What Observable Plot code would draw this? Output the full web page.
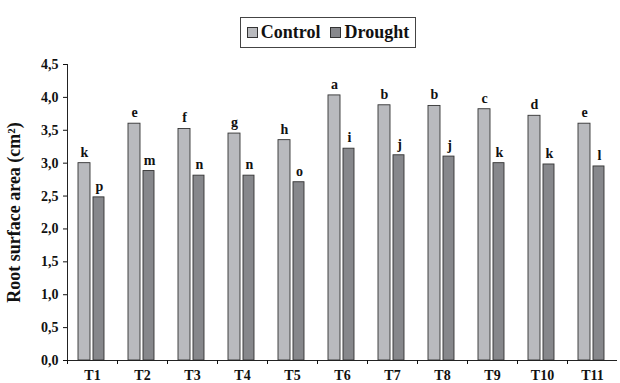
<!DOCTYPE html>
<html>
<head>
<meta charset="utf-8">
<script src="https://cdn.jsdelivr.net/npm/d3@7"></script>
<script src="https://cdn.jsdelivr.net/npm/@observablehq/plot@0.6"></script>
<style>
  html, body { margin: 0; background: #fff; font-family: "Liberation Serif", serif; }
  #wrap { width: 620px; }
  #legend { position: relative; height: 55px; }
  #legend .box { position: absolute; left: 240px; top: 17px; width: 174px; height: 29px; border: 1px solid #444; display: flex; align-items: center; justify-content: center; gap: 10px; font-weight: bold; font-size: 18px; color: #111; }
  #legend .item { display: flex; align-items: center; gap: 3px; }
  #legend .sw { width: 9px; height: 9px; border: 1px solid #333; display: inline-block; }
</style>
</head>
<body>
<div id="wrap">
  <div id="legend"><div class="box" style="font-family:'Liberation Serif', serif">
    <span class="item"><span class="sw" style="background:#b9babe"></span>Control</span>
    <span class="item"><span class="sw" style="background:#87888c"></span>Drought</span>
  </div></div>
  <div id="chart"></div>
</div>
<script>
const treatments = ["T1","T2","T3","T4","T5","T6","T7","T8","T9","T10","T11"];
const control = [3.00, 3.60, 3.52, 3.45, 3.35, 4.03, 3.88, 3.87, 3.82, 3.72, 3.60];
const drought = [2.48, 2.88, 2.81, 2.81, 2.71, 3.22, 3.12, 3.10, 3.00, 2.98, 2.95];
const controlLetters = ["k","e","f","g","h","a","b","b","c","d","e"];
const droughtLetters = ["p","m","n","n","o","i","j","j","k","k","l"];
const yTicks = [0, 0.5, 1, 1.5, 2, 2.5, 3, 3.5, 4, 4.5];

const cData = treatments.map((t, i) => ({t, v: control[i], l: controlLetters[i]}));
const dData = treatments.map((t, i) => ({t, v: drought[i], l: droughtLetters[i]}));
const fmt = d => d3.format(".1f")(d).replace(".", ",");

const chart = Plot.plot({
  width: 620,
  height: 328,
  marginTop: 9,
  marginBottom: 23,
  marginLeft: 67,
  marginRight: 3,
  style: {fontFamily: "Liberation Serif", fontWeight: "bold", fontSize: "14px", color: "#111", background: "#fff"},
  x: {domain: treatments, padding: 0},
  y: {domain: [0, 4.5]},
  marks: [
    Plot.barY(cData, {x: "t", y: "v", fill: "#b9babe", stroke: "#333", strokeWidth: 0.9, insetLeft: 11, insetRight: 27}),
    Plot.barY(dData, {x: "t", y: "v", fill: "#87888c", stroke: "#333", strokeWidth: 0.9, insetLeft: 26, insetRight: 13}),
    Plot.text(cData, {x: "t", y: "v", text: "l", dx: -8, dy: -11, fontSize: 14, fontWeight: "bold", fill: "#111"}),
    Plot.text(dData, {x: "t", y: "v", text: "l", dx: 7, dy: -11, fontSize: 14, fontWeight: "bold", fill: "#111"}),
    Plot.ruleY([0], {stroke: "#222"}),
    Plot.frame({anchor: "left", stroke: "#222"}),
    Plot.axisY({ticks: yTicks, tickFormat: fmt, tickSize: 4, tickPadding: 5, fontSize: 14, label: "Root surface area (cm²)", labelAnchor: "center", labelArrow: "none", labelOffset: 60}),
    Plot.axisX({tickSize: 0, tickPadding: 10, label: null, fontSize: 14}),
    Plot.axisX({tickSize: 4, tickFormat: () => "", label: null, dx: -25})
  ]
});
document.getElementById("chart").appendChild(chart);
chart.querySelectorAll("text").forEach(t => t.setAttribute("font-family", "Liberation Serif"));
chart.querySelectorAll("g[aria-label='y-axis label'] text").forEach(t => t.setAttribute("font-size", "18"));
</script>
</body>
</html>
